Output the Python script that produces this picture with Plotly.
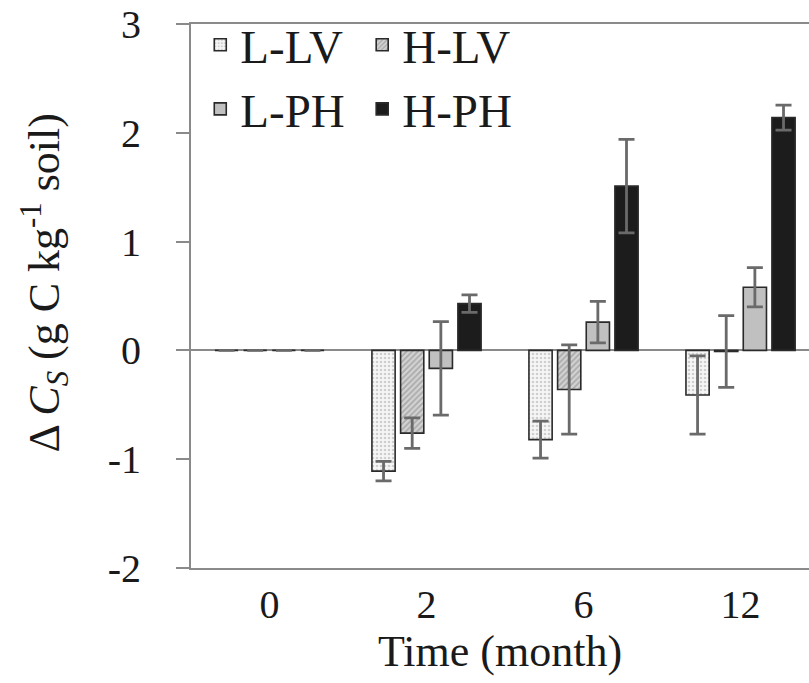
import plotly.graph_objects as go

months = ["0", "2", "6", "12"]
series = ["L-LV", "H-LV", "L-PH", "H-PH"]
l_lv = [0.0, -1.11, -0.82, -0.41]
l_lv_err = [0.0, 0.09, 0.17, 0.36]
h_lv = [0.0, -0.76, -0.36, -0.01]
h_lv_err = [0.0, 0.14, 0.41, 0.33]
l_ph = [0.0, -0.165, 0.26, 0.58]
l_ph_err = [0.0, 0.43, 0.19, 0.18]
h_ph = [0.0, 0.43, 1.51, 2.14]
h_ph_err = [0.0, 0.08, 0.43, 0.115]
y_tick_vals = [-2, -1, 0, 1, 2, 3]
y_tick_text = ["-2", "-1", "0", "1", "2", "3"]

FONT = "Liberation Serif, Times New Roman, serif"
ERRC = "#6a6a6a"
AXC = "#8a8a8a"

styles = {
    "L-LV": dict(color="#f4f4f4", pattern=dict(shape=".", fgcolor="#a8a8a8", bgcolor="#f6f6f6", size=4, solidity=0.35)),
    "H-LV": dict(color="#c8c8c8", pattern=dict(shape="/", fgcolor="#7d7d7d", bgcolor="#d2d2d2", size=4, solidity=0.4)),
    "L-PH": dict(color="#c0c0c0"),
    "H-PH": dict(color="#1c1c1c"),
}
values = {"L-LV": (l_lv, l_lv_err), "H-LV": (h_lv, h_lv_err),
          "L-PH": (l_ph, l_ph_err), "H-PH": (h_ph, h_ph_err)}
legend_of = {"L-LV": "legend", "L-PH": "legend", "H-LV": "legend2", "H-PH": "legend2"}

fig = go.Figure()
for name in series:
    y, e = values[name]
    st = styles[name]
    marker = dict(color=st["color"], line=dict(color="#2a2a2a", width=1.6))
    if "pattern" in st:
        marker["pattern"] = st["pattern"]
    fig.add_trace(go.Bar(
        name=name, x=months, y=y, marker=marker,
        legend=legend_of[name], legendgroup=name,
        error_y=dict(type="data", array=e, visible=True, color=ERRC, thickness=2.8, width=8),
    ))

legend_common = dict(y=1.03, xanchor="left", yanchor="top", bgcolor="rgba(0,0,0,0)",
                     font=dict(family=FONT, size=47), tracegroupgap=0, itemwidth=30)

fig.update_layout(
    width=809, height=683,
    margin=dict(l=191, r=0, t=24, b=115, autoexpand=False),
    paper_bgcolor="white", plot_bgcolor="white",
    font=dict(family=FONT, size=40, color="#1a1a1a"),
    barmode="group", bargap=0.27, bargroupgap=0.19,
    showlegend=True,
    legend=dict(x=0.015, **legend_common),
    legend2=dict(x=0.277, **legend_common),
    xaxis=dict(type="category", range=[-0.5, 3.436], showline=True, mirror=True,
               linecolor=AXC, linewidth=2, ticks="", showgrid=False, automargin=False,
               tickfont=dict(family=FONT, size=40), ticklabelstandoff=0,
               title=dict(text="Time (month)", font=dict(family=FONT, size=44), standoff=4)),
    yaxis=dict(range=[-2, 3], tickvals=y_tick_vals, ticktext=y_tick_text,
               showline=True, linecolor=AXC, linewidth=2, automargin=False,
               ticks="outside", ticklen=13, tickwidth=2, tickcolor=AXC, showgrid=False,
               zeroline=True, zerolinecolor=AXC, zerolinewidth=2,
               tickfont=dict(family=FONT, size=40), ticklabelstandoff=27),
    annotations=[dict(
        text="Δ <i>C</i><sub><i>S</i></sub> (g C kg<sup>-1</sup> soil)",
        xref="paper", yref="paper", x=-0.236, y=0.525, textangle=-90,
        showarrow=False, xanchor="center", yanchor="middle",
        font=dict(family=FONT, size=44, color="#1a1a1a"))],
)

fig.write_html("out.html", post_script="document.body.style.margin='0px';",
               config={"displayModeBar": False})
